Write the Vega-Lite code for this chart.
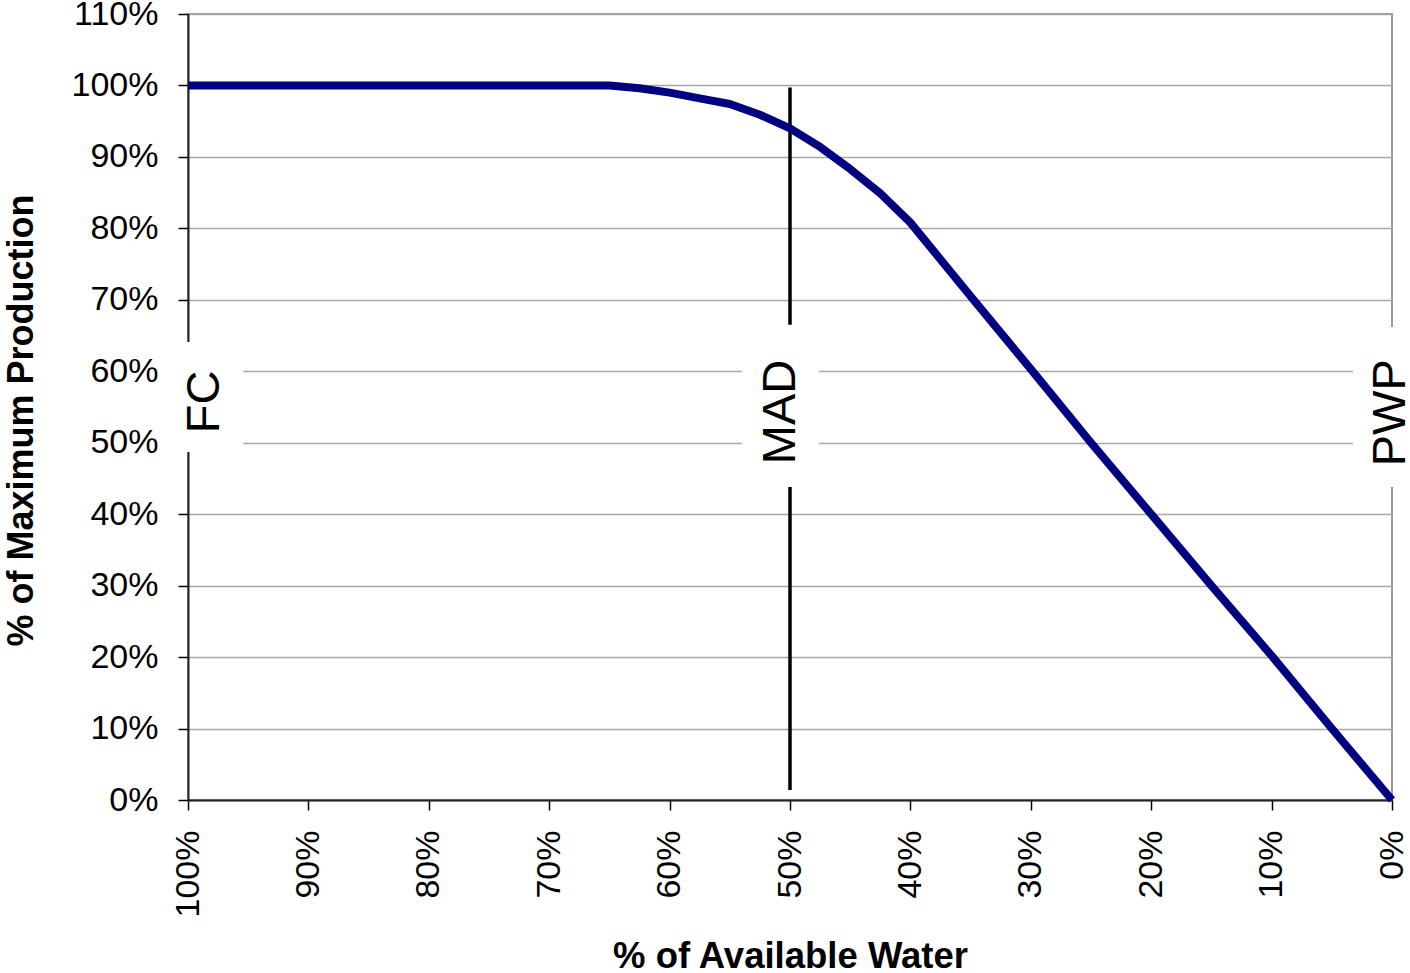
{
  "$schema": "https://vega.github.io/schema/vega-lite/v6.json",
  "width": 1204,
  "height": 786,
  "autosize": {"type": "none"},
  "padding": {"left": 188, "top": 14, "right": 18, "bottom": 173},
  "background": "white",
  "config": {
    "view": {"stroke": "#999999", "strokeWidth": 2},
    "font": "Liberation Sans"
  },
  "datasets": {
    "curve": [
      {"water": 100, "prod": 100},
      {"water": 95, "prod": 100},
      {"water": 90, "prod": 100},
      {"water": 85, "prod": 100},
      {"water": 80, "prod": 100},
      {"water": 75, "prod": 100},
      {"water": 70, "prod": 100},
      {"water": 65, "prod": 100},
      {"water": 62.5, "prod": 99.6},
      {"water": 60, "prod": 99.0},
      {"water": 57.5, "prod": 98.2},
      {"water": 55, "prod": 97.4},
      {"water": 52.5, "prod": 95.9},
      {"water": 50, "prod": 94.0},
      {"water": 47.5, "prod": 91.4},
      {"water": 45, "prod": 88.3},
      {"water": 42.5, "prod": 84.9},
      {"water": 40, "prod": 80.8},
      {"water": 35, "prod": 70.5},
      {"water": 30, "prod": 60.3},
      {"water": 25, "prod": 50.0},
      {"water": 20, "prod": 40.0},
      {"water": 15, "prod": 30.0},
      {"water": 10, "prod": 20.2},
      {"water": 5, "prod": 10.0},
      {"water": 0, "prod": 0}
    ],
    "mad": [
      {"water": 50, "prod": 1.4, "prod2": 99.7}
    ],
    "boxes": [
      {"label": "FC", "water": 101.1, "water2": 95.4, "prod": 48.7, "prod2": 64.1},
      {"label": "MAD", "water": 54.0, "water2": 47.6, "prod": 43.8, "prod2": 66.5},
      {"label": "PWP", "water": 3.24, "water2": -2, "prod": 43.8, "prod2": 66.2}
    ],
    "labels": [
      {"label": "FC", "water": 98.6, "prod": 55.7},
      {"label": "MAD", "water": 50.75, "prod": 54.3},
      {"label": "PWP", "water": 0.08, "prod": 54.2}
    ]
  },
  "encoding": {
    "x": {
      "field": "water",
      "type": "quantitative",
      "scale": {"domain": [0, 100], "reverse": true, "nice": false, "zero": false},
      "axis": {
        "values": [0, 10, 20, 30, 40, 50, 60, 70, 80, 90, 100],
        "labelExpr": "datum.value + '%'",
        "labelAngle": 270,
        "labelFontSize": 34,
        "labelColor": "black",
        "labelPadding": 20,
        "labelFont": "Liberation Sans",
        "tickSize": 10,
        "tickColor": "black",
        "tickWidth": 1.5,
        "domainColor": "#222222",
        "domainWidth": 2,
        "grid": false,
        "title": "% of Available Water",
        "titleFont": "Liberation Sans",
        "titleFontSize": 36.5,
        "titleFontWeight": "bold",
        "titleColor": "black",
        "titleX": 602,
        "titleY": 167,
        "titleAlign": "center",
        "titleBaseline": "alphabetic",
        "zindex": 0
      }
    },
    "y": {
      "field": "prod",
      "type": "quantitative",
      "scale": {"domain": [0, 110], "nice": false},
      "axis": {
        "values": [0, 10, 20, 30, 40, 50, 60, 70, 80, 90, 100, 110],
        "labelExpr": "datum.value + '%'",
        "labelFontSize": 34,
        "labelColor": "black",
        "labelPadding": 20,
        "labelFont": "Liberation Sans",
        "tickSize": 10,
        "tickColor": "black",
        "tickWidth": 1.5,
        "domainColor": "#222222",
        "domainWidth": 2,
        "grid": true,
        "gridColor": "#a6a6a6",
        "gridWidth": 1.5,
        "title": "% of Maximum Production",
        "titleFont": "Liberation Sans",
        "titleFontSize": 36,
        "titleFontWeight": "bold",
        "titleColor": "black",
        "titleAngle": 270,
        "titleX": -156,
        "titleY": 406,
        "titleAlign": "center",
        "titleBaseline": "alphabetic",
        "zindex": 0
      }
    }
  },
  "layer": [
    {
      "data": {"name": "mad"},
      "mark": {"type": "rule", "color": "black", "strokeWidth": 3.5},
      "encoding": {
        "y2": {"field": "prod2"}
      }
    },
    {
      "data": {"name": "boxes"},
      "mark": {"type": "rect", "fill": "white", "stroke": null},
      "encoding": {
        "x2": {"field": "water2"},
        "y2": {"field": "prod2"}
      }
    },
    {
      "data": {"name": "labels"},
      "mark": {"type": "text", "angle": 270, "fontSize": 47, "font": "Liberation Sans", "align": "center", "baseline": "middle", "color": "black"},
      "encoding": {
        "text": {"field": "label"}
      }
    },
    {
      "data": {"name": "curve"},
      "mark": {"type": "line", "color": "#000080", "strokeWidth": 8, "strokeJoin": "round"},
      "encoding": {}
    }
  ]
}
